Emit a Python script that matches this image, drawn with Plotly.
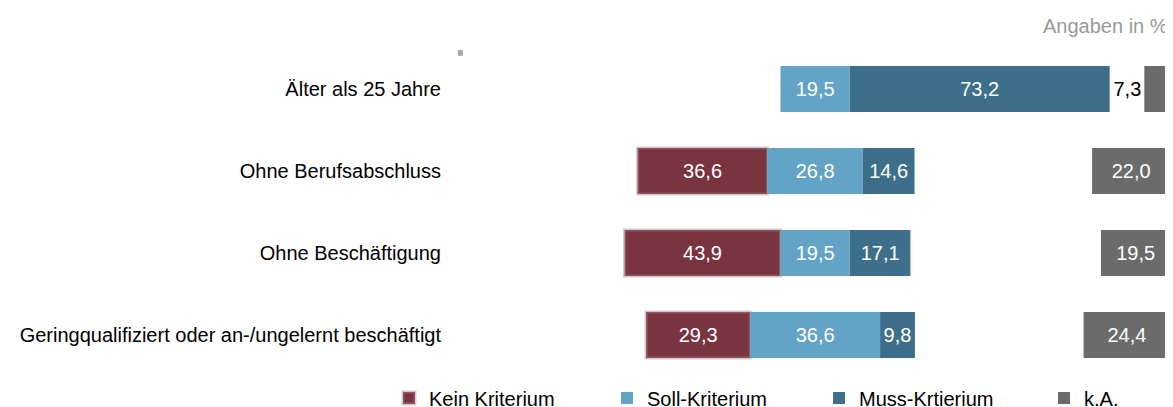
import plotly.graph_objects as go

categories = ["Älter als 25 Jahre", "Ohne Berufsabschluss", "Ohne Beschäftigung",
              "Geringqualifiziert oder an-/ungelernt beschäftigt"]
kein = [None, 36.6, 43.9, 29.3]
soll = [19.5, 26.8, 19.5, 36.6]
muss = [73.2, 14.6, 17.1, 9.8]
ka = [7.3, 22.0, 19.5, 24.4]
series_names = ["Kein Kriterium", "Soll-Kriterium", "Muss-Krtierium", "k.A."]
colors = ["#7a3440", "#63a3c6", "#3e6f8a", "#6b6b6b"]
legend_widths = [173, 167, 180, None]
KA_END = 100

FONT = "Liberation Sans, Arial, sans-serif"
FS = 20
W, H = 1165, 399  # page body adds an 8px margin

half_soll = [s / 2 for s in soll]
kein_base = [-(k + h) if k is not None else 0 for k, h in zip(kein, half_soll)]
soll_base = [-h for h in half_soll]
muss_base = half_soll

common = dict(orientation="h", textangle=0, constraintext="none",
              insidetextanchor="middle", cliponaxis=False)

fig = go.Figure()
fig.add_trace(go.Bar(
    y=categories, x=kein, base=kein_base, name=series_names[0], legendwidth=legend_widths[0],
    marker=dict(color=colors[0], line=dict(color="rgba(160,130,135,0.45)", width=3)),
    texttemplate="%{x:.1f}", textposition="inside",
    textfont=dict(color="white", size=FS, family=FONT), **common))
fig.add_trace(go.Bar(
    y=categories, x=soll, base=soll_base, name=series_names[1], legendwidth=legend_widths[1],
    marker=dict(color=colors[1], line=dict(width=0)),
    texttemplate="%{x:.1f}", textposition="inside",
    textfont=dict(color="white", size=FS, family=FONT), **common))
fig.add_trace(go.Bar(
    y=categories, x=muss, base=muss_base, name=series_names[2], legendwidth=legend_widths[2],
    marker=dict(color=colors[2], line=dict(width=0)),
    texttemplate="%{x:.1f}", textposition="inside",
    textfont=dict(color="white", size=FS, family=FONT), **common))
fig.add_trace(go.Bar(
    y=categories, x=[-v for v in ka], base=[KA_END] * len(ka), customdata=ka,
    name=series_names[3],
    marker=dict(color=colors[3], line=dict(width=0)),
    texttemplate="%{customdata:.1f}", textposition="auto",
    insidetextfont=dict(color="white", size=FS, family=FONT),
    outsidetextfont=dict(color="black", size=FS, family=FONT),
    textfont=dict(size=FS, family=FONT), **common))

fig.update_layout(
    width=W, height=H,
    margin=dict(l=452, r=1, t=40, b=31, autoexpand=False),
    barmode="overlay", bargap=0.44,
    separators=",.",
    plot_bgcolor="white", paper_bgcolor="white",
    font=dict(family=FONT, size=FS, color="#000000"),
    xaxis=dict(range=[-100, 100.5], visible=False, fixedrange=True),
    yaxis=dict(autorange="reversed", showgrid=False, zeroline=False, showline=False,
               ticks="", ticklabelstandoff=18, automargin=False,
               tickfont=dict(size=FS, color="#000")),
    legend=dict(orientation="h", xref="paper", yref="paper",
                x=-0.0997, xanchor="left", y=-0.067, yanchor="middle",
                entrywidthmode="pixels", traceorder="normal",
                font=dict(size=FS, color="#000"), itemwidth=30),
    showlegend=True,
    annotations=[dict(text="Angaben in %", xref="paper", yref="paper", x=1.0, y=1.067,
                      xanchor="right", yanchor="middle", showarrow=False, xshift=-2,
                      font=dict(size=FS, color="#999999"))],
    shapes=[dict(type="rect", xref="paper", yref="paper", x0=-0.003, x1=0.004,
                 y0=0.976, y1=0.994, fillcolor="#a8a8a8", line=dict(width=0))],
)

fig.write_html("out.html")
